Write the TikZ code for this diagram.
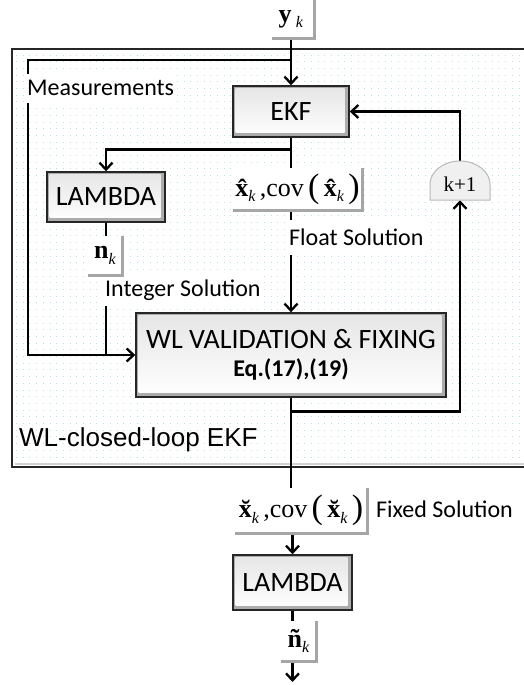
\documentclass[tikz,border=0pt]{standalone}
\usepackage{fontspec}
\setmainfont{Carlito}
\newfontfamily\arialf{Liberation Sans}
\newfontfamily\tms{Liberation Serif}
\usetikzlibrary{arrows.meta}
\pgfdeclarelayer{bg}
\pgfdeclarelayer{wires}
\pgfsetlayers{bg,wires,main}
\definecolor{dotc}{RGB}{185,225,230}
\newcommand\sbk{\raisebox{-0.45ex}{\fontsize{16}{16}\selectfont\itshape k}}
\newcommand\bpl{\raisebox{-0.08ex}{\fontsize{34}{34}\selectfont(}}
\newcommand\bpr{\raisebox{-0.08ex}{\fontsize{34}{34}\selectfont)}}
\begin{document}
\begin{tikzpicture}[x=1pt,y=-1pt,
  wire/.style={line width=2.5pt, black},
  arr/.style={wire, -{Straight Barb[length=7pt,width=13pt,line width=2.3pt]}},
  box/.style={draw=black!85, line width=1.4pt, fill=gray!65, inner sep=0pt,
    font=\fontsize{28}{31}\selectfont,
    path picture={\shade[top color=gray!20, bottom color=white]
      ([shift={(2.5pt,-2.5pt)}]path picture bounding box.north west) rectangle
      ([shift={(-4.5pt,4.5pt)}]path picture bounding box.south east);}},
  lbl/.style={fill=white, inner sep=0pt, font=\tms\fontsize{26}{28}\selectfont},
  lblb/.style={draw=gray!70, line width=2.8pt},
  txt/.style={fill=white, inner sep=2pt, font=\fontsize{24}{26}\selectfont},
  dome/.style={draw=gray!55, line width=1pt, fill=gray!12}]
\useasboundingbox (0,0) rectangle (523,685);
% frame background with dots
\begin{pgfonlayer}{bg}
  \fill[white] (0,0) rectangle (523,685);
  \foreach \yy in {55,61.7,...,462} {
    \draw[dotc, line width=0.9pt, dash pattern=on 0.9pt off 5.8pt] (16,\yy) -- (522,\yy);
  }
  \draw[gray!35, line width=2.5pt] (15,464) -- (530,464);
  \draw[black!85, line width=2pt] (12,49) rectangle (530,467);
\end{pgfonlayer}
% nodes
\node[lbl, minimum width=42pt, minimum height=38pt] (yk) at (293,19) {{\bfseries y}\,\sbk\,};
\node[box, minimum width=116pt, minimum height=51pt] (ekf) at (291,111.5) {EKF};
\node[box, minimum width=118pt, minimum height=50pt] (lam1) at (106,197) {LAMBDA};
\node[lbl, minimum width=129pt, minimum height=42pt] (xh) at (297.5,189)
  {{\bfseries\^{x}}\sbk\,,cov\,\bpl\,{\bfseries\^{x}}\sbk\,\bpr};
\node[lbl, minimum width=34pt, minimum height=39pt] (nk) at (105,255.5) {{\bfseries n}\sbk};
\draw[dome] (430,200) -- (430,184) .. controls (430,171.9) and (443.4,161) .. (460,161)
  .. controls (476.6,161) and (490,171.9) .. (490,184) -- (490,200) -- cycle;
\node[font=\tms\fontsize{21}{22}\selectfont, minimum width=60pt, minimum height=39pt, inner sep=0pt]
  (k1) at (460,180.5) {\raisebox{-3.5pt}[0.68em][0pt]{k+1}};
\node[box, minimum width=310pt, minimum height=84pt, align=center] (wl) at (291,355)
  {WL VALIDATION \& FIXING\\[-3pt]{\bfseries\fontsize{24}{26}\selectfont Eq.(17),(19)}};
\node[txt, anchor=west, minimum height=29pt] (meas) at (25,88) {Measurements};
\node[txt, anchor=west, minimum height=35pt] (fs) at (287,237.5) {Float Solution};
\node[txt, anchor=west, minimum height=31pt] (is) at (103,290) {Integer Solution};
\node[anchor=west, inner sep=0pt, font=\arialf\fontsize{26}{28}\selectfont] (wlc) at (19,440) {WL-closed-loop EKF};
\node[lbl, minimum width=132pt, minimum height=45pt] (xb) at (301,510.5)
  {{\bfseries\u{x}}\sbk\,,cov\,\bpl\,{\bfseries\u{x}}\sbk\,\bpr};
\node[txt, anchor=west, fill=none] (fix) at (374,509) {Fixed Solution};
\node[box, minimum width=119pt, minimum height=55pt] (lam2) at (292.5,582.5) {LAMBDA};
\node[lbl, minimum width=35pt, minimum height=40pt] (nt) at (298.5,641) {{\bfseries\~{n}}\sbk};
\coordinate (out) at (292.5,682);
\coordinate (mt) at (28,60);
% label borders
\foreach \n in {yk,xh,nk,xb,nt} {
  \draw[lblb] (\n.north east) -- (\n.south east) -- (\n.south west);
}
% connectors
\begin{pgfonlayer}{wires}
  \draw[arr] (yk.south -| ekf.north) -- (ekf.north);
  \draw[arr] (ekf.north |- mt) -- (mt) |- (wl.west);
  \draw[arr] (ekf.south) -- ++(0,12) -| (lam1.north);
  \draw[wire] (ekf.south) -- (ekf.south |- xh.north);
  \draw[arr] (ekf.south |- xh.south) -- (wl.north);
  \draw[wire] (lam1.south) -- (lam1.south |- nk.north);
  \draw[wire] (lam1.south |- nk.south) -- (lam1.south |- wl.west);
  \draw[arr] (wl.south) -- ++(0,14) -| (k1.south);
  \draw[arr] (k1.north) |- (ekf.east);
  \draw[wire] (wl.south) -- (wl.south |- xb.north);
  \draw[arr] (lam2.north |- xb.south) -- (lam2.north);
  \draw[wire] (lam2.south) -- (lam2.south |- nt.north);
  \draw[arr] (lam2.south |- nt.south) -- (out);
\end{pgfonlayer}
\end{tikzpicture}
\end{document}
